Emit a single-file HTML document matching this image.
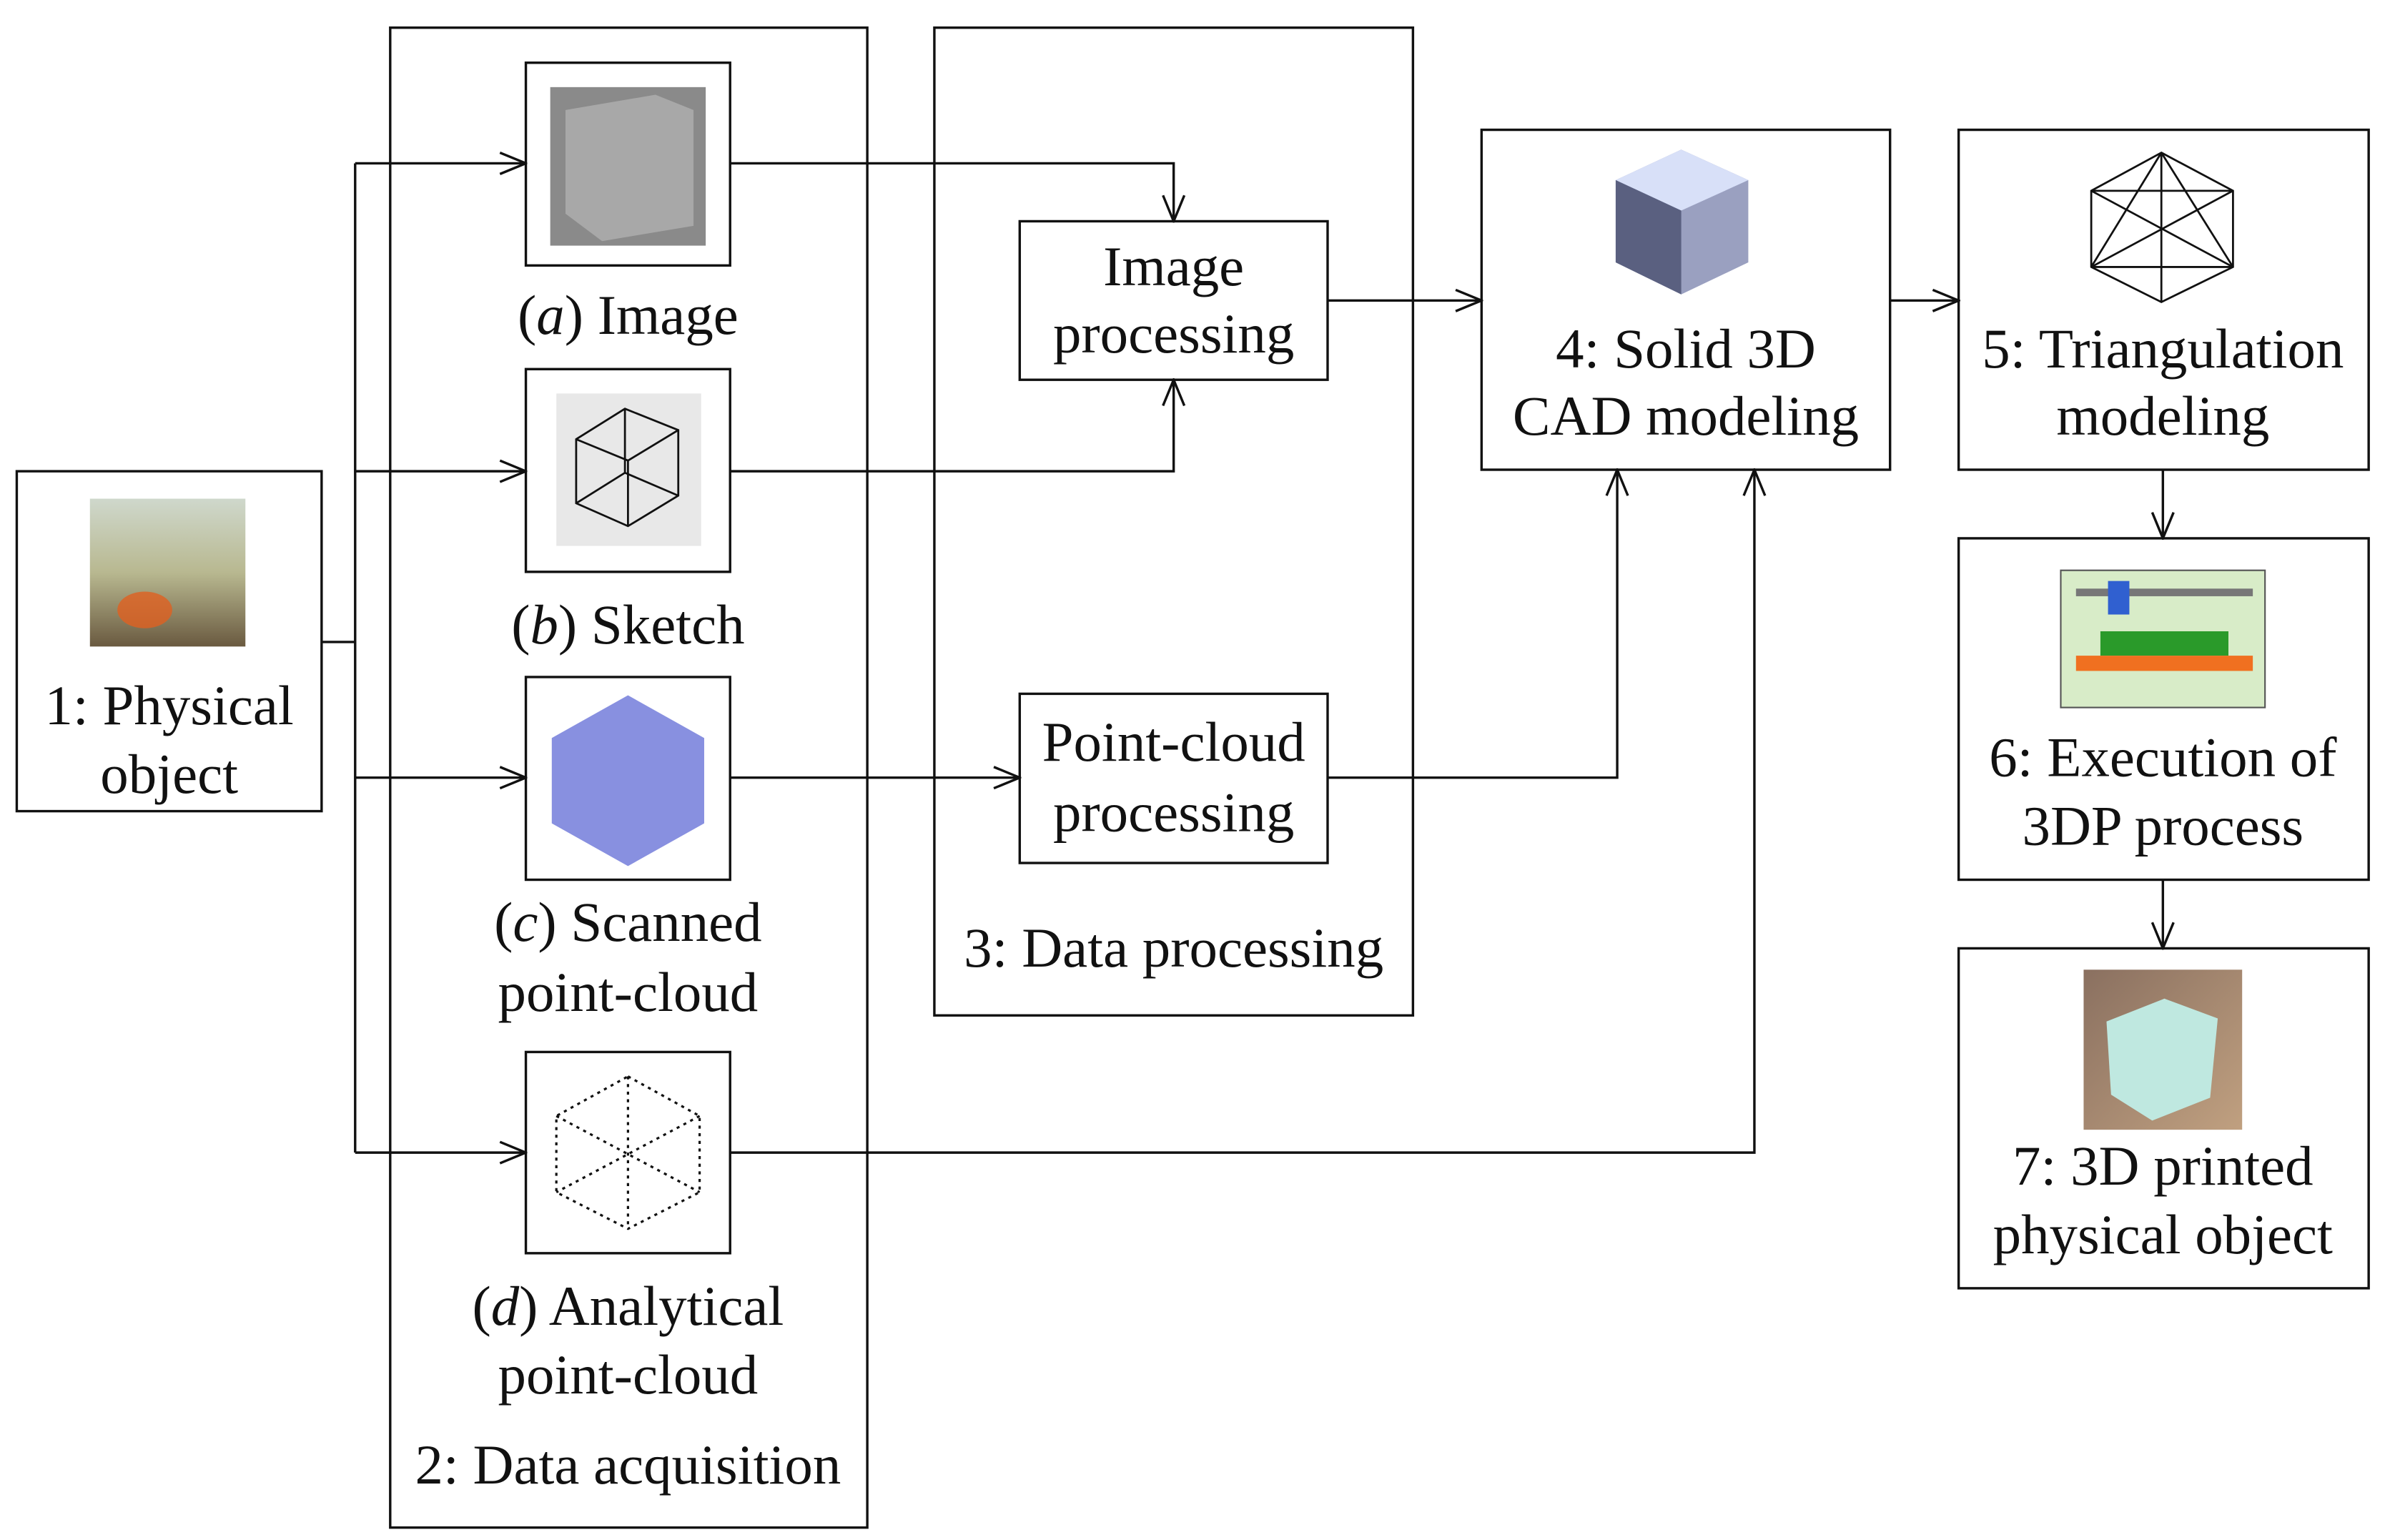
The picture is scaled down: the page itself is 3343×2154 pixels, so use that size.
<!DOCTYPE html>
<html><head><meta charset="utf-8"><style>
html,body{margin:0;padding:0;background:#fff;}
svg{display:block;}
text{font-family:"Liberation Serif",serif;font-size:37px;fill:#111;text-anchor:middle;}
</style></head><body>
<svg width="3343" height="2154" viewBox="0 0 1568 1010" xmlns="http://www.w3.org/2000/svg">
<defs>
<marker id="ar" viewBox="0 0 20 20" refX="19" refY="10" markerWidth="20" markerHeight="20" markerUnits="userSpaceOnUse" orient="auto">
<path d="M2,3 L19,10 L2,17" fill="none" stroke="#111" stroke-width="1.6"/>
</marker>
<linearGradient id="ph1" x1="0" y1="0" x2="0" y2="1"><stop offset="0" stop-color="#cfd8cc"/><stop offset="0.5" stop-color="#b8b890"/><stop offset="1" stop-color="#6a5a40"/></linearGradient>
<linearGradient id="ph7" x1="0" y1="0" x2="1" y2="1"><stop offset="0" stop-color="#8a7060"/><stop offset="1" stop-color="#c0a080"/></linearGradient>
</defs>
<g fill="none" stroke="#111" stroke-width="1.6">
<rect x="11" y="309" width="200" height="223"/>
<rect x="256" y="18" width="313" height="984"/>
<rect x="345" y="41" width="134" height="133"/>
<rect x="345" y="242" width="134" height="133"/>
<rect x="345" y="444" width="134" height="133"/>
<rect x="345" y="690" width="134" height="132"/>
<rect x="613" y="18" width="314" height="648"/>
<rect x="669" y="145" width="202" height="104"/>
<rect x="669" y="455" width="202" height="111"/>
<rect x="972" y="85" width="268" height="223"/>
<rect x="1285" y="85" width="269" height="223"/>
<rect x="1285" y="353" width="269" height="224"/>
<rect x="1285" y="622" width="269" height="223"/>
</g>
<rect x="59" y="327" width="102" height="97" fill="url(#ph1)"/>
<ellipse cx="95" cy="400" rx="18" ry="12" fill="#e06020" opacity="0.8"/>
<rect x="361" y="57" width="102" height="104" fill="#8a8a8a"/>
<polygon points="371,72 430,62 455,72 455,148 395,158 371,140" fill="#a8a8a8"/>
<rect x="365" y="258" width="95" height="100" fill="#e8e8e8"/>
<g stroke="#111" stroke-width="1.3" fill="none">
<polygon points="378,288 410,268 445,282 445,325 412,345 378,330"/>
<polyline points="378,288 412,302 445,282"/><line x1="412" y1="302" x2="412" y2="345"/>
<polyline points="410,268 410,310 378,330"/><line x1="410" y1="310" x2="445" y2="325"/>
</g>
<polygon points="412,456 462,484 462,540 412,568 362,540 362,484" fill="#8890e0"/>
<g stroke="#111" stroke-width="1.5" fill="none" stroke-dasharray="2,3">
<polygon points="412,706 459,732 459,782 412,806 365,782 365,732"/>
<line x1="412" y1="706" x2="412" y2="806"/><line x1="365" y1="732" x2="459" y2="782"/><line x1="459" y1="732" x2="365" y2="782"/>
</g>
<polygon points="1103,98 1147,118 1147,172 1103,193 1060,172 1060,118" fill="#9aa0c0"/>
<polygon points="1103,98 1147,118 1103,138 1060,118" fill="#d8e0f8"/>
<polygon points="1060,118 1103,138 1103,193 1060,172" fill="#5a6080"/>
<g stroke="#111" stroke-width="1.3" fill="none">
<polygon points="1418,100 1465,125 1465,175 1418,198 1372,175 1372,125"/>
<line x1="1418" y1="100" x2="1418" y2="198"/><line x1="1372" y1="125" x2="1465" y2="175"/><line x1="1465" y1="125" x2="1372" y2="175"/>
<line x1="1372" y1="125" x2="1465" y2="125"/><line x1="1372" y1="175" x2="1465" y2="175"/><line x1="1418" y1="100" x2="1372" y2="175"/><line x1="1418" y1="100" x2="1465" y2="175"/>
</g>
<rect x="1352" y="374" width="134" height="90" fill="#d8ecc8" stroke="#555" stroke-width="1"/>
<rect x="1362" y="386" width="116" height="5" fill="#777"/>
<rect x="1383" y="381" width="14" height="22" fill="#3060d0"/>
<rect x="1378" y="414" width="84" height="16" fill="#2a9a2a"/>
<rect x="1362" y="430" width="116" height="10" fill="#f07020"/>
<rect x="1367" y="636" width="104" height="105" fill="url(#ph7)"/>
<polygon points="1382,670 1420,655 1455,668 1450,720 1412,735 1385,718" fill="#bfe8e0"/>
<g fill="none" stroke="#111" stroke-width="1.6">
<polyline points="211,421 233,421"/>
<line x1="233" y1="107" x2="233" y2="756"/>
<line x1="233" y1="107" x2="345" y2="107" marker-end="url(#ar)"/>
<line x1="233" y1="309" x2="345" y2="309" marker-end="url(#ar)"/>
<line x1="233" y1="510" x2="345" y2="510" marker-end="url(#ar)"/>
<line x1="233" y1="756" x2="345" y2="756" marker-end="url(#ar)"/>
<polyline points="479,107 770,107 770,145" marker-end="url(#ar)"/>
<polyline points="479,309 770,309 770,249" marker-end="url(#ar)"/>
<line x1="479" y1="510" x2="669" y2="510" marker-end="url(#ar)"/>
<line x1="871" y1="197" x2="972" y2="197" marker-end="url(#ar)"/>
<polyline points="871,510 1061,510 1061,308" marker-end="url(#ar)"/>
<polyline points="479,756 1151,756 1151,308" marker-end="url(#ar)"/>
<line x1="1240" y1="197" x2="1285" y2="197" marker-end="url(#ar)"/>
<line x1="1419" y1="308" x2="1419" y2="353" marker-end="url(#ar)"/>
<line x1="1419" y1="577" x2="1419" y2="622" marker-end="url(#ar)"/>
</g>
<text x="111" y="475">1: Physical</text>
<text x="111" y="520">object</text>
<text x="412" y="219">(<tspan font-style="italic">a</tspan>) Image</text>
<text x="412" y="422">(<tspan font-style="italic">b</tspan>) Sketch</text>
<text x="412" y="617">(<tspan font-style="italic">c</tspan>) Scanned</text>
<text x="412" y="663">point-cloud</text>
<text x="412" y="869">(<tspan font-style="italic">d</tspan>) Analytical</text>
<text x="412" y="914">point-cloud</text>
<text x="412" y="973">2: Data acquisition</text>
<text x="770" y="187">Image</text>
<text x="770" y="231">processing</text>
<text x="770" y="499">Point-cloud</text>
<text x="770" y="545">processing</text>
<text x="770" y="634">3: Data processing</text>
<text x="1106" y="241">4: Solid 3D</text>
<text x="1106" y="285">CAD modeling</text>
<text x="1419" y="241">5: Triangulation</text>
<text x="1419" y="285">modeling</text>
<text x="1419" y="509">6: Execution of</text>
<text x="1419" y="554">3DP process</text>
<text x="1419" y="777">7: 3D printed</text>
<text x="1419" y="822">physical object</text>
</svg>
</body></html>
